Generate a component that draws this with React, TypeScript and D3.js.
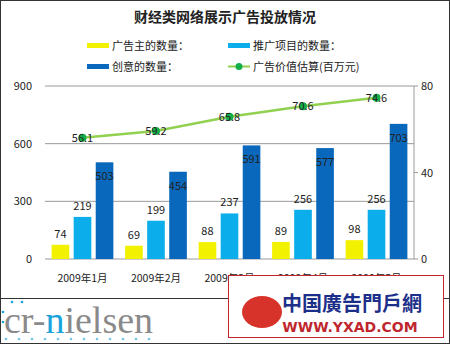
import React from "react";
import * as d3 from "d3";

const categories = ["2009年1月", "2009年2月", "2009年3月", "2009年4月", "2009年5月"];
const advertisers = [74, 69, 88, 89, 98];
const promoItems = [219, 199, 237, 256, 256];
const creatives = [503, 454, 591, 577, 703];
const adValue = [56.1, 59.2, 65.8, 70.6, 74.6];
const leftTicks = [0, 300, 600, 900];
const rightTicks = [0, 40, 80];
const seriesNames = ["广告主的数量：", "推广项目的数量：", "创意的数量：", "广告价值估算(百万元)"];
const barColors = ["#F2F200", "#0BAEEA", "#0A68BC"];

const W = 450, H = 344;
const FONT = "'Noto Sans CJK SC', 'Noto Sans', sans-serif";

export default function App() {
  const x0 = 45, x1 = 414, yTop = 86, yBot = 259;
  const x = d3.scaleBand<string>().domain(categories).range([x0, x1]).paddingInner(0.16).paddingOuter(0.09);
  const sub = d3.scaleBand<number>().domain([0, 1, 2]).range([0, x.bandwidth()]).paddingInner(0.2);
  const yL = d3.scaleLinear().domain([0, 900]).range([yBot, yTop]);
  const yR = d3.scaleLinear().domain([0, 80]).range([yBot, yTop]);
  const series = [advertisers, promoItems, creatives];
  const line = d3.line<number>()
    .x((_, i) => (x(categories[i]) as number) + x.bandwidth() / 2)
    .y((d) => yR(d));
  const dots = d3.range(12);

  return (
    <svg width={W} height={H} style={{ position: "absolute", left: 0, top: 0, background: "#fff" }} fontFamily={FONT}>
      <rect x={0.5} y={0.5} width={W - 1} height={H - 1} fill="#fff" stroke="#333" />
      <text x={225} y={22} textAnchor="middle" fontSize={14} fontWeight="bold" fill="#222">财经类网络展示广告投放情况</text>
      {/* legend */}
      <rect x={87} y={43} width={22} height={5} fill={barColors[0]} />
      <text x={112} y={50} fontSize={11} fill="#222">{seriesNames[0]}</text>
      <rect x={228} y={43} width={22} height={5} fill={barColors[1]} />
      <text x={253} y={50} fontSize={11} fill="#222">{seriesNames[1]}</text>
      <rect x={87} y={64} width={22} height={5} fill={barColors[2]} />
      <text x={112} y={71} fontSize={11} fill="#222">{seriesNames[2]}</text>
      <line x1={228} x2={250} y1={66.5} y2={66.5} stroke="#92D050" strokeWidth={2} />
      <circle cx={239} cy={66.5} r={3.5} fill="#12B04A" />
      <text x={253} y={71} fontSize={11} fill="#222">{seriesNames[3]}</text>
      {/* grid */}
      {leftTicks.map((t) => (
        <g key={"l" + t}>
          <line x1={x0} x2={x1} y1={yL(t)} y2={yL(t)} stroke="#9a9a9a" strokeWidth={1} />
          <text x={32} y={yL(t) + 4} textAnchor="end" fontSize={11} fill="#222">{t}</text>
        </g>
      ))}
      <line x1={x1} x2={x1} y1={yTop} y2={yBot} stroke="#9a9a9a" />
      {rightTicks.map((t) => (
        <g key={"r" + t}>
          <line x1={x1} x2={x1 + 4} y1={yR(t)} y2={yR(t)} stroke="#9a9a9a" />
          <text x={421} y={yR(t) + 4} fontSize={11} fill="#222">{t}</text>
        </g>
      ))}
      {/* bars */}
      {categories.map((c, i) => (
        <g key={c} transform={`translate(${x(c)},0)`}>
          {series.map((s, k) => (
            <g key={k}>
              <rect x={sub(k)} y={yL(s[i])} width={sub.bandwidth()} height={yBot - yL(s[i])} fill={barColors[k]} />
              <text
                x={(sub(k) as number) + sub.bandwidth() / 2}
                y={k === 2 ? yL(s[i]) + 18 : yL(s[i]) - 7}
                textAnchor="middle" fontSize={11} fill="#222">{s[i]}</text>
            </g>
          ))}
          <text x={x.bandwidth() / 2} y={282} textAnchor="middle" fontSize={10.5} fill="#222">{c}</text>
        </g>
      ))}
      {/* line */}
      <path d={line(adValue) || ""} fill="none" stroke="#92D050" strokeWidth={2.5} />
      {adValue.map((v, i) => {
        const cx = (x(categories[i]) as number) + x.bandwidth() / 2;
        return (
          <g key={"v" + i}>
            <circle cx={cx} cy={yR(v)} r={4} fill="#12B04A" />
            <text x={cx} y={yR(v) + 4} textAnchor="middle" fontSize={11} fill="#222">{v}</text>
          </g>
        );
      })}
      {/* footer */}
      <line x1={0} x2={W} y1={298.5} y2={298.5} stroke="#333" />
      {dots.map((d) => (
        <circle key={"d" + d} cx={6 + d * 13} cy={339} r={1.3} fill="#1BA3DC" opacity={0.6} />
      ))}
      <circle cx={3} cy={312} r={1.3} fill="#1BA3DC" />
      <circle cx={3} cy={322} r={1.3} fill="#1BA3DC" />
      <circle cx={12} cy={302} r={1.3} fill="#1BA3DC" />
      <circle cx={22} cy={302} r={1.3} fill="#1BA3DC" />
      <text x={4} y={333} fontSize={38} fill="#8a8a8a" fontFamily="'Liberation Serif', serif">
        cr-<tspan fill="#1BA3DC">n</tspan>ielsen
      </text>
      <rect x={228.5} y={275.5} width={215} height={62} fill="#fff" stroke="#c0262d" />
      <text x={352} y={311} textAnchor="middle" fontSize={20} fontWeight="bold" fill="#1c2f8a">中国廣告門戶網</text>
      <text x={350} y={332} textAnchor="middle" fontSize={14} fontWeight="bold" fill="#c0262d" fontFamily="'DejaVu Sans', sans-serif">WWW.YXAD.COM</text>
      <ellipse cx={262} cy={312} rx={20} ry={16} fill="#d8332a" />
    </svg>
  );
}
